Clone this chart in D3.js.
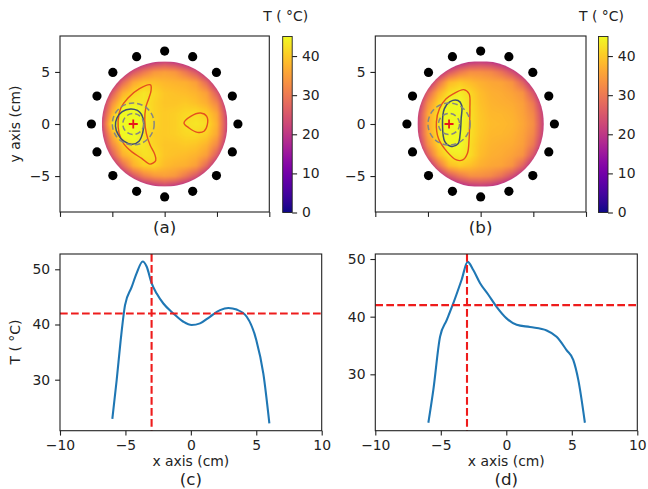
<!doctype html>
<html lang="en">
<head>
<meta charset="UTF-8">
<script src="https://cdnjs.cloudflare.com/ajax/libs/d3/7.8.5/d3.min.js"></script>
<title>Temperature maps</title>
<style>
  body { margin: 0; background: #fff; }
  text { font-family: "DejaVu Sans", sans-serif; }
</style>
</head>
<body>
<div id="Area"></div>
<script>

// temperature maps, sampled every 1 cm (rows: y = 6 .. -6, columns: x = -6 .. 6)
const gridX = [-6, -5, -4, -3, -2, -1, 0, 1, 2, 3, 4, 5, 6];
const gridY = [6, 5, 4, 3, 2, 1, 0, -1, -2, -3, -4, -5, -6];

const tempA = [
    [10, 10, 10, 13, 17, 20, 22, 20, 17, 13, 10, 10, 10],
    [10, 12, 17, 25, 30, 34, 35, 34, 30, 25, 17, 12, 10],
    [12, 17, 28, 36, 39, 39, 38, 37.5, 37, 35, 28, 17, 12],
    [13, 26, 37, 41, 43, 41.5, 39.5, 39, 38.5, 37.5, 35, 26, 13],
    [18, 33, 42, 43.5, 43, 41, 39.5, 39.5, 40, 39, 37, 32, 18],
    [21, 38, 47, 49, 44, 41, 40, 40.5, 41.5, 42, 40.5, 36, 21],
    [23, 43.5, 49.5, 47.5, 43.5, 41.3, 39.9, 40.6, 42.3, 43, 42.2, 37.2, 22],
    [21, 37, 46, 46.5, 42.5, 40.5, 40, 40.5, 41.5, 41.7, 40.5, 36, 21],
    [18, 32, 40.5, 43.5, 43, 41, 39.5, 39.5, 40, 39.5, 37.5, 32, 18],
    [13, 26, 37, 40, 42.5, 42.2, 39.5, 39, 38.5, 37.5, 35, 26, 13],
    [12, 17, 28, 37, 40.5, 41, 38.5, 37.5, 37, 35, 28, 17, 12],
    [10, 12, 17, 25, 31, 34, 35, 34, 30, 25, 17, 12, 10],
    [10, 10, 10, 13, 17, 20, 22, 20, 17, 13, 10, 10, 10]
];

const tempB = [
    [10, 10, 10, 13, 17, 20, 21, 20, 17, 13, 10, 10, 10],
    [10, 12, 17, 25, 30, 33, 33, 32, 29, 24, 17, 12, 10],
    [12, 17, 29, 38, 40, 38.5, 37, 36, 35.5, 33.5, 27, 17, 12],
    [13, 27, 37, 42.3, 43.5, 41.5, 38.5, 37, 36.5, 35.5, 33.5, 25, 13],
    [18, 33, 41, 45, 45, 42, 39, 37.5, 37, 36.5, 35, 30, 18],
    [21, 36, 42.5, 48, 46, 42.5, 39.5, 38, 37.8, 37.2, 35.5, 32, 21],
    [21.6, 36.5, 42.5, 49.5, 45.8, 42.6, 39.7, 38.4, 38.1, 37.6, 36, 33, 21.6],
    [21, 36, 42.5, 48, 46, 42.5, 39.5, 38, 37.8, 37.2, 35.5, 32, 21],
    [18, 33, 41, 45.3, 45.3, 42, 39, 37.5, 37, 36.5, 35, 30, 18],
    [13, 27, 38, 43, 43.5, 42, 38.5, 37, 36.5, 35.5, 33.5, 25, 13],
    [12, 17, 29, 38.5, 40.5, 39, 37, 36, 35.5, 33.5, 27, 17, 12],
    [10, 12, 17, 25, 30, 33, 33, 32, 29, 24, 17, 12, 10],
    [10, 10, 10, 13, 17, 20, 21, 20, 17, 13, 10, 10, 10]
];

// contour lines (cm)
const contourA42 = [[-1.35, 3.75], [-1.3, 3.2], [-1.5, 2.5], [-1.8, 1.6], [-1.9, 0.3], [-1.75, -0.9],
    [-1.4, -2.0], [-0.95, -2.9], [-0.85, -3.5], [-1.4, -3.85], [-2.2, -3.3], [-3.1, -2.7],
    [-3.9, -1.9], [-4.35, -0.9], [-4.45, 0.3], [-4.2, 1.5], [-3.5, 2.5], [-2.4, 3.4]];
const contourA42right = [[1.85, 0.1], [2.49, 0.73], [3.44, 1.05], [4.02, 0.73], [4.08, -0.07],
    [3.76, -0.7], [3.13, -0.8], [2.33, -0.38]];
const contourAinner = [[-3.25, 1.45], [-2.6, 1.3], [-2.2, 0.9], [-2.0, 0.1], [-2.1, -0.85],
    [-2.45, -1.65], [-3.1, -1.95], [-3.9, -1.65], [-4.45, -1.0], [-4.7, -0.2], [-4.55, 0.6], [-4.05, 1.2]];
const contourB42 = [[-2.6, 2.9], [-1.6, 3.3], [-1.1, 2.9], [-1.02, 1.5], [-1.05, 0], [-1.1, -1.5],
    [-1.25, -2.8], [-1.7, -3.45], [-2.3, -3.45], [-3.2, -2.65], [-4.0, -1.4], [-4.2, 0.2],
    [-3.9, 1.5], [-3.3, 2.4]];
const contourBinner = [[-2.9, 2.15], [-2.15, 2.25], [-1.8, 1.8], [-1.85, 0.5], [-1.95, -1.0],
    [-2.15, -1.9], [-2.8, -2.15], [-3.4, -1.7], [-3.62, -0.1], [-3.45, 1.45]];

// antennas and focus
const antennaAngles = [0, 22.5, 45, 67.5, 90, 112.5, 135, 157.5, 180, 202.5, 225, 247.5, 270, 292.5, 315, 337.5];
const antennaRadius = 7;
const phantomRadius = 6;
const focus = [-3, 0];
const focusRadii = [1, 2];

// temperature along y = 0
const profileCx = [-6, -5.67, -5.36, -5.03, -4.52, -4.14, -3.68, -3.38, -3.0, -2.61, -2.1, -1.34,
    -0.57, 0.06, 0.7, 1.46, 2.23, 2.87, 3.5, 4.27, 5.0, 5.54, 6.0];
const profileCt = [22.9, 29.9, 37.2, 43.5, 46.8, 49.3, 51.4, 50.5, 47.5, 45.6, 43.8, 42.0,
    40.5, 39.9, 40.2, 41.4, 42.6, 43.0, 42.7, 41.4, 37.2, 31.1, 22.1];
const profileDx = [-5.95, -5.57, -5.06, -4.55, -4.05, -3.41, -2.95, -2.52, -2.0, -1.37, -0.74,
    0.02, 0.79, 1.81, 3.08, 3.84, 4.6, 5.11, 5.5, 6.0];
const profileDt = [21.6, 27.3, 36.5, 39.4, 42.3, 46.4, 49.5, 48.1, 45.8, 43.8, 41.7,
    39.7, 38.6, 38.2, 37.6, 36.5, 34.2, 32.5, 29.0, 21.6];
const threshold = 42;

const xTicks = [-10, -5, 0, 5, 10];
const yTicksMap = [-5, 0, 5];
const cbarTicks = [0, 10, 20, 30, 40];
const tTicks = [30, 40, 50];

const FS = 13.9, FS_LABEL = 16.7, TICK = 4.9, PAD = 4.9;

const svg = d3.select("#Area")
    .append("svg")
    .attr("width", 648)
    .attr("height", 489);

const color = d3.scaleSequential(d3.interpolatePlasma).domain([0, 45]).clamp(true);

function styleAxis(g) {
    g.select(".domain").remove();
    g.selectAll(".tick line").attr("stroke", "#222").attr("stroke-width", 1.1);
    g.selectAll(".tick text").attr("font-size", FS).attr("fill", "#222")
        .attr("font-family", "DejaVu Sans, sans-serif");
}

function frame(x0, x1, y0, y1) {
    svg.append("rect")
        .attr("x", x0).attr("y", y0)
        .attr("width", x1 - x0).attr("height", y1 - y0)
        .attr("fill", "none").attr("stroke", "#222").attr("stroke-width", 1.1);
}

function sample(grid, cx, cy) {
    let fi = Math.max(0, Math.min(12, cx - gridX[0]));
    let fj = Math.max(0, Math.min(12, gridY[0] - cy));
    const i0 = Math.min(11, Math.floor(fi)), j0 = Math.min(11, Math.floor(fj));
    const tx = fi - i0, ty = fj - j0;
    const a = grid[j0][i0] * (1 - tx) + grid[j0][i0 + 1] * tx;
    const b = grid[j0 + 1][i0] * (1 - tx) + grid[j0 + 1][i0 + 1] * tx;
    return a * (1 - ty) + b * ty;
}

const contourLine = (x, y) => d3.line()
    .x(d => x(d[0])).y(d => y(d[1]))
    .curve(d3.curveCatmullRomClosed.alpha(0.5));

function mapPanel(opt) {
    const x = d3.scaleLinear().domain([-10, 10]).range([opt.x0, opt.x1]);
    const y = d3.scaleLinear().domain([-8.45, 8.45]).range([212, 36]);
    const g = svg.append("g");

    // heat map
    const px0 = x(-6), px1 = x(6), py0 = y(6), py1 = y(-6);
    const w = Math.round((px1 - px0) * 2), h = Math.round((py1 - py0) * 2);
    const cv = document.createElement("canvas");
    cv.width = w; cv.height = h;
    const ctx = cv.getContext("2d");
    const img = ctx.createImageData(w, h);
    for (let j = 0; j < h; j++) {
        for (let i = 0; i < w; i++) {
            const cx = -6 + 12 * (i + 0.5) / w, cy = 6 - 12 * (j + 0.5) / h;
            const c = d3.rgb(color(sample(opt.grid, cx, cy)));
            const k = (j * w + i) * 4;
            img.data[k] = c.r; img.data[k + 1] = c.g; img.data[k + 2] = c.b; img.data[k + 3] = 255;
        }
    }
    ctx.putImageData(img, 0, 0);
    g.append("clipPath").attr("id", opt.id)
        .append("circle").attr("cx", x(0)).attr("cy", y(0)).attr("r", x(phantomRadius) - x(0));
    g.append("image")
        .attr("href", cv.toDataURL())
        .attr("x", px0).attr("y", py0)
        .attr("width", px1 - px0).attr("height", py1 - py0)
        .attr("preserveAspectRatio", "none")
        .attr("clip-path", `url(#${opt.id})`);

    // contours
    const line = contourLine(x, y);
    opt.hot.forEach(c => g.append("path").attr("d", line(c))
        .attr("fill", "none").attr("stroke", "#e5501e").attr("stroke-width", 1.4));
    g.append("path").attr("d", line(opt.inner))
        .attr("fill", "none").attr("stroke", "#3f4d70").attr("stroke-width", 1.5);

    // focus region
    g.selectAll("circle.focus").data(focusRadii).join("circle")
        .attr("class", "focus")
        .attr("cx", x(focus[0])).attr("cy", y(focus[1]))
        .attr("r", d => x(d) - x(0))
        .attr("fill", "none").attr("stroke", "#858585").attr("stroke-width", 1.5)
        .attr("stroke-dasharray", "5.5,3");
    const fx = x(focus[0]), fy = y(focus[1]);
    g.append("path").attr("d", `M${fx - 4.5},${fy}H${fx + 4.5}M${fx},${fy - 4.5}V${fy + 4.5}`)
        .attr("stroke", "#e8161c").attr("stroke-width", 1.8);

    // antennas
    g.selectAll("circle.ant").data(antennaAngles).join("circle")
        .attr("class", "ant")
        .attr("cx", d => x(antennaRadius * Math.cos(d * Math.PI / 180)))
        .attr("cy", d => y(antennaRadius * Math.sin(d * Math.PI / 180)))
        .attr("r", 4.6).attr("fill", "#000");

    // axes
    svg.append("g").attr("transform", "translate(0,212)")
        .call(d3.axisBottom(x).tickValues(xTicks).tickFormat("").tickSize(TICK).tickPadding(PAD))
        .call(styleAxis);
    svg.append("g").attr("transform", `translate(${opt.x0},0)`)
        .call(d3.axisLeft(y).tickValues(yTicksMap).tickSize(TICK).tickPadding(PAD))
        .call(styleAxis);
    frame(opt.x0, opt.x1, 36, 212);

    svg.append("text").attr("x", x(0)).attr("y", 232.5).attr("text-anchor", "middle")
        .attr("font-size", FS_LABEL).attr("fill", "#222").text(opt.label);

    // colour bar
    const cb = d3.scaleLinear().domain([0, 45]).range([212.5, 36.5]);
    const gid = opt.id + "grad";
    const grad = svg.append("defs").append("linearGradient").attr("id", gid)
        .attr("x1", 0).attr("y1", 1).attr("x2", 0).attr("y2", 0);
    d3.range(0, 1.0001, 0.05).forEach(t => grad.append("stop")
        .attr("offset", t).attr("stop-color", d3.interpolatePlasma(t)));
    svg.append("rect").attr("x", opt.cb).attr("y", 36.5).attr("width", 9.5).attr("height", 176)
        .attr("fill", `url(#${gid})`).attr("stroke", "#222").attr("stroke-width", 0.9);
    svg.append("g").attr("transform", `translate(${opt.cb + 9.5},0)`)
        .call(d3.axisRight(cb).tickValues(cbarTicks).tickSize(TICK).tickPadding(PAD))
        .call(styleAxis);
    svg.append("text").attr("x", opt.cb + 3).attr("y", 21).attr("text-anchor", "middle")
        .attr("font-size", FS).attr("fill", "#222").text("T ( °C)");
}

function profilePanel(opt) {
    const x = d3.scaleLinear().domain([-10, 10]).range([opt.x0, opt.x1]);
    const y = d3.scaleLinear().domain(opt.yDomain).range([430.7, 254]);
    const g = svg.append("g");
    const pts = opt.xs.map((v, i) => [v, opt.ts[i]]);

    g.append("path")
        .attr("d", d3.line().x(d => x(d[0])).y(d => y(d[1])).curve(d3.curveMonotoneX)(pts))
        .attr("fill", "none").attr("stroke", "#1f77b4").attr("stroke-width", 2.1);

    g.append("line").attr("x1", opt.x0).attr("x2", opt.x1)
        .attr("y1", y(threshold)).attr("y2", y(threshold))
        .attr("stroke", "#ee1c1c").attr("stroke-width", 2.1).attr("stroke-dasharray", "7.7,3.3");
    g.append("line").attr("x1", x(focus[0])).attr("x2", x(focus[0]))
        .attr("y1", 254).attr("y2", 430.7)
        .attr("stroke", "#ee1c1c").attr("stroke-width", 2.1).attr("stroke-dasharray", "7.7,3.3");

    svg.append("g").attr("transform", "translate(0,430.7)")
        .call(d3.axisBottom(x).tickValues(xTicks).tickSize(TICK).tickPadding(PAD))
        .call(styleAxis);
    svg.append("g").attr("transform", `translate(${opt.x0},0)`)
        .call(d3.axisLeft(y).tickValues(tTicks).tickSize(TICK).tickPadding(PAD))
        .call(styleAxis);
    frame(opt.x0, opt.x1, 254, 430.7);

    svg.append("text").attr("x", x(0)).attr("y", 466).attr("text-anchor", "middle")
        .attr("font-size", FS).attr("fill", "#222").text("x axis (cm)");
    svg.append("text").attr("x", x(0)).attr("y", 484.5).attr("text-anchor", "middle")
        .attr("font-size", FS_LABEL).attr("fill", "#222").text(opt.label);
}

mapPanel({id: "mapA", x0: 60, x1: 269.3, cb: 282.7, grid: tempA,
    hot: [contourA42, contourA42right], inner: contourAinner, label: "(a)"});
mapPanel({id: "mapB", x0: 375.3, x1: 586, cb: 598.5, grid: tempB,
    hot: [contourB42], inner: contourBinner, label: "(b)"});

profilePanel({x0: 60, x1: 321.7, yDomain: [20.76, 52.77], xs: profileCx, ts: profileCt, label: "(c)"});
profilePanel({x0: 375.3, x1: 637.3, yDomain: [20.22, 50.87], xs: profileDx, ts: profileDt, label: "(d)"});

svg.append("text").attr("transform", "translate(20,124) rotate(-90)")
    .attr("text-anchor", "middle").attr("font-size", FS).attr("fill", "#222").text("y axis (cm)");
svg.append("text").attr("transform", "translate(20,342) rotate(-90)")
    .attr("text-anchor", "middle").attr("font-size", FS).attr("fill", "#222").text("T ( °C)");

</script>
</body>
</html>
